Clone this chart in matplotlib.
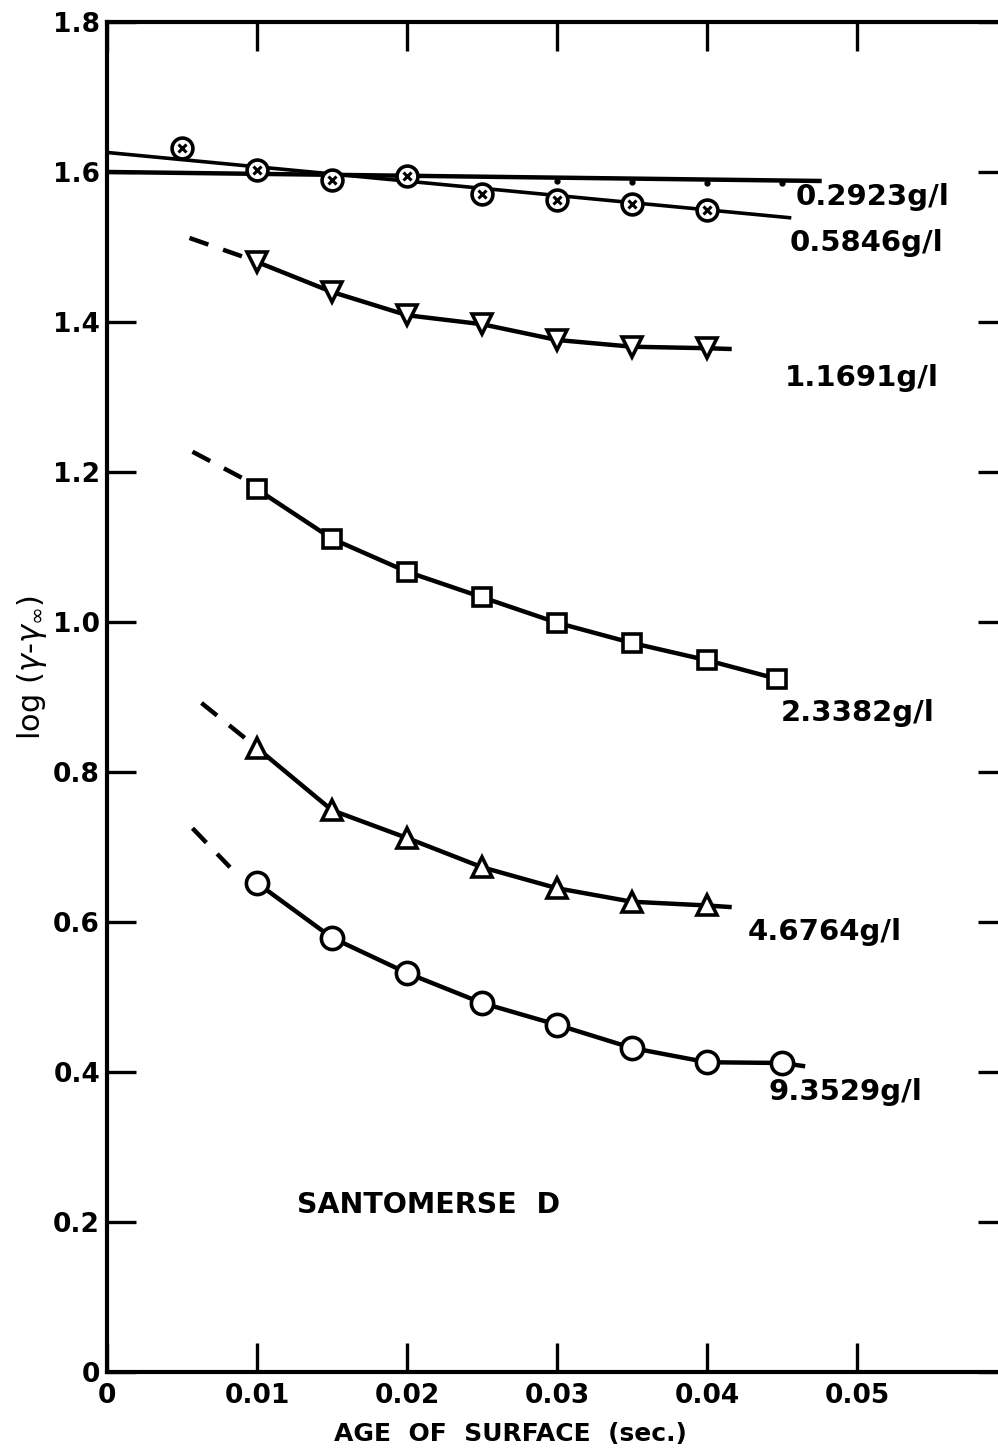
import matplotlib.pyplot as plt

plt.rcParams["font.family"] = ["DejaVu Sans"]

# age of surface (sec.) at which each set was read
age = [0.010, 0.015, 0.020, 0.025, 0.030, 0.035, 0.040]

# 0.2923 g/l : straight line, small dots on it
c0292_age = [0.030, 0.035, 0.040, 0.045]
c0292_fit_x = [0.0, 0.0475]
c0292_fit_y = [1.600, 1.588]

# 0.5846 g/l
c0585_age = [0.005, 0.010, 0.015, 0.020, 0.025, 0.030, 0.035, 0.040]
c0585_val = [1.632, 1.603, 1.589, 1.595, 1.571, 1.563, 1.557, 1.549]
c0585_fit_x = [0.0, 0.0455]
c0585_fit_y = [1.626, 1.539]

# 1.1691 g/l
c1169_val = [1.480, 1.440, 1.409, 1.397, 1.376, 1.367, 1.365]
c1169_end = (0.0415, 1.364)
c1169_dash = ([0.0055, 0.0095], [1.512, 1.484])

# 2.3382 g/l
c2338_age = [0.010, 0.015, 0.020, 0.025, 0.030, 0.035, 0.040, 0.0447]
c2338_val = [1.177, 1.111, 1.067, 1.033, 0.999, 0.972, 0.949, 0.924]
c2338_dash = ([0.0057, 0.0092], [1.227, 1.190])

# 4.6764 g/l
c4676_val = [0.832, 0.749, 0.712, 0.673, 0.645, 0.627, 0.622]
c4676_end = (0.0415, 0.620)
c4676_dash = ([0.0063, 0.0094], [0.892, 0.842])

# 9.3529 g/l
c9353_age = [0.010, 0.015, 0.020, 0.025, 0.030, 0.035, 0.040, 0.045]
c9353_val = [0.652, 0.579, 0.532, 0.492, 0.463, 0.432, 0.413, 0.412]
c9353_end = (0.0464, 0.408)
c9353_dash = ([0.0057, 0.0082], [0.725, 0.673])

labels = ["0.2923g/l", "0.5846g/l", "1.1691g/l", "2.3382g/l", "4.6764g/l", "9.3529g/l"]
label_pos = [(0.0459, 1.567), (0.0455, 1.505), (0.0452, 1.325),
             (0.0449, 0.879), (0.0427, 0.587), (0.0441, 0.373)]

fig = plt.figure(figsize=(9.98, 14.54), dpi=100)
ax = fig.add_axes([0.1072, 0.0564, 0.9018, 0.9285])
ax.set_xlim(0, 0.06)
ax.set_ylim(0, 1.8)

lw = 3.2
mk = dict(markerfacecolor="white", markeredgecolor="black", markeredgewidth=2.6, color="black")
dash = dict(color="black", lw=lw, dashes=(4.5, 3.5))

# 0.2923
ax.plot(c0292_fit_x, c0292_fit_y, color="black", lw=lw, zorder=2)
ax.plot(c0292_age, [c0292_fit_y[0] + (c0292_fit_y[1] - c0292_fit_y[0]) * a / c0292_fit_x[1] - 0.004
                    for a in c0292_age],
        "o", color="black", ms=3.5, zorder=3)

# 0.5846
ax.plot(c0585_fit_x, c0585_fit_y, color="black", lw=2.6, zorder=2)
ax.plot(c0585_age, c0585_val, "o", ms=15, zorder=4, **mk)
ax.plot(c0585_age, c0585_val, "x", ms=6, color="black", mew=2.2, zorder=5)

# 1.1691
ax.plot(age + [c1169_end[0]], c1169_val + [c1169_end[1]], color="black", lw=lw, zorder=2)
ax.plot(age, c1169_val, "v", ms=15, zorder=4, **mk)
ax.plot(*c1169_dash, **dash)

# 2.3382
ax.plot(c2338_age, c2338_val, color="black", lw=lw, zorder=2)
ax.plot(c2338_age, c2338_val, "s", ms=13, zorder=4, **mk)
ax.plot(*c2338_dash, **dash)

# 4.6764
ax.plot(age + [c4676_end[0]], c4676_val + [c4676_end[1]], color="black", lw=lw, zorder=2)
ax.plot(age, c4676_val, "^", ms=15, zorder=4, **mk)
ax.plot(*c4676_dash, **dash)

# 9.3529
ax.plot(c9353_age + [c9353_end[0]], c9353_val + [c9353_end[1]], color="black", lw=lw, zorder=2)
ax.plot(c9353_age, c9353_val, "o", ms=16, zorder=4, **mk)
ax.plot(*c9353_dash, **dash)

for text, (x, y) in zip(labels, label_pos):
    ax.text(x, y, text, fontsize=21, fontweight="bold", ha="left", va="center")

ax.text(0.0127, 0.223, "SANTOMERSE  D", fontsize=20.5, fontweight="bold", ha="left", va="center")

# axes frame and ticks
for side in ["left", "bottom", "top", "right"]:
    ax.spines[side].set_linewidth(3)
ax.set_xticks([0, 0.01, 0.02, 0.03, 0.04, 0.05])
ax.set_xticklabels(["0", "0.01", "0.02", "0.03", "0.04", "0.05"])
ax.set_yticks([0, 0.2, 0.4, 0.6, 0.8, 1.0, 1.2, 1.4, 1.6, 1.8])
ax.set_yticklabels(["0", "0.2", "0.4", "0.6", "0.8", "1.0", "1.2", "1.4", "1.6", "1.8"])
ax.tick_params(direction="in", length=21, width=2.4, labelsize=19, top=True, right=True)
ax.tick_params(axis="x", pad=8)
ax.tick_params(axis="y", pad=5)
for lab in ax.get_xticklabels() + ax.get_yticklabels():
    lab.set_fontweight("bold")

ax.set_xlabel("AGE  OF  SURFACE  (sec.)", fontsize=18, fontweight="bold")
ax.xaxis.set_label_coords(0.448, -0.037)
ax.set_ylabel(r"log ($\gamma$-$\gamma_{\infty}$)", fontsize=22)
ax.yaxis.set_label_coords(-0.064, 0.522)

fig.savefig("out.png", dpi=100)
